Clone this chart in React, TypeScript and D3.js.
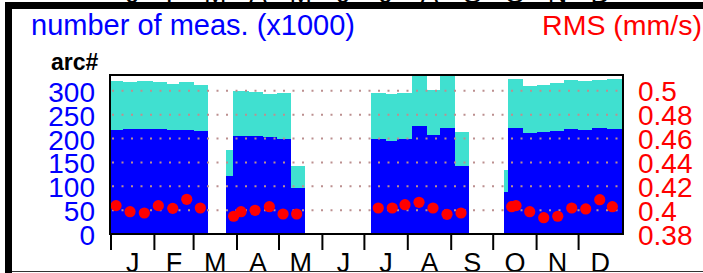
import React from 'react';
import * as d3 from 'd3';

// month labels and the day-of-year each month starts on
const months = ['J', 'F', 'M', 'A', 'M', 'J', 'J', 'A', 'S', 'O', 'N', 'D'];
const monthStart = [0, 31, 59, 90, 120, 151, 181, 212, 243, 273, 304, 334];

// bars: day-of-year start / end, total (x1000) and arc# part (x1000)
const barStart = [0, 8.8, 18.4, 30.2, 39.8, 48.6, 59.5,
  82.1, 87.4, 98.6, 108.4, 118.4, 128.4,
  185.5, 196.4, 204.1, 214.8, 225.5, 235, 245.7,
  280.7, 283.4, 294.5, 304.1, 313.6, 323.6, 333.8, 343.8, 354.1];
const barEnd = [8.8, 18.4, 30.2, 39.8, 48.6, 59.5, 69.1,
  87.4, 98.6, 108.4, 118.4, 128.4, 138.4,
  196.4, 204.1, 214.8, 225.5, 235, 245.7, 255.7,
  283.4, 294.5, 304.1, 313.6, 323.6, 333.8, 343.8, 354.1, 365];
const totalMeas = [320, 319, 320, 318, 315, 318, 313,
  175, 300, 297, 293, 296, 143,
  295, 293, 296, 345, 302, 345, 214,
  134, 324, 311, 312, 316, 323, 321, 323, 325];
const arcMeas = [218, 220, 220, 220, 217, 217, 215,
  122, 206, 205, 203, 200, 96,
  199, 195, 200, 227, 207, 223, 143,
  89, 221, 212, 214, 216, 219, 217, 223, 219];

// RMS points
const rmsDay = [3.6, 13.6, 23.8, 33.8, 44.1, 54.1, 63.8,
  87.6, 92.9, 102.9, 113.1, 122.9, 132.6,
  190.9, 200.9, 210, 220, 230, 240, 250,
  286.2, 289.3, 299.1, 309.1, 319.1, 329.1, 339.1, 349.1, 358.1];
const rmsValue = [0.4038, 0.3987, 0.3976, 0.4038, 0.4015, 0.4091, 0.4018,
  0.3949, 0.3987, 0.3999, 0.4029, 0.3968, 0.3968,
  0.4018, 0.4018, 0.4046, 0.4066, 0.4018, 0.3965, 0.3976,
  0.4029, 0.4038, 0.3987, 0.3937, 0.3949, 0.4018, 0.4010, 0.4088, 0.4029];

const leftTicks = [0, 50, 100, 150, 200, 250, 300];
const rightTicks = [0.38, 0.4, 0.42, 0.44, 0.46, 0.48, 0.5];

export default function App() {
  const W = 703, H = 273;
  const left = 111, right = 622, top = 75, bottom = 234;

  const x = d3.scaleLinear().domain([0, 365]).range([left, right]);
  const yL = d3.scaleLinear().domain([0, 333]).range([bottom, top]);
  const yR = d3.scaleLinear().domain([0.38, 0.5134]).range([bottom, top]);

  const font = 'Liberation Sans, Arial, sans-serif';
  const labelX = (i: number) =>
    (x(monthStart[i]) + x(i < 11 ? monthStart[i + 1] : 365)) / 2;

  return (
    <svg width={W} height={H} style={{ position: 'absolute', left: 0, top: 0, background: '#fff' }}
      fontFamily={font}>
      <defs>
        <clipPath id="plot">
          <rect x={left} y={top} width={right - left} height={bottom - top} />
        </clipPath>
      </defs>

      {/* bottom of the panel above */}
      {months.map((m, i) => (
        <text key={'top' + i} x={labelX(i)} y={3} fontSize={27} textAnchor="middle">{m}</text>
      ))}
      <rect x={5} y={2} width={W - 5} height={7} fill="#000" />
      <rect x={5} y={2} width={7} height={H} fill="#000" />

      <text x={31} y={35} fontSize={29} fill="#0000ff">number of meas. (x1000)</text>
      <text x={702} y={35} fontSize={28.5} fill="#ff0000" textAnchor="end">RMS (mm/s)</text>
      <text x={51} y={70} fontSize={23} fontWeight="bold" fill="#000">arc#</text>

      <g clipPath="url(#plot)" shapeRendering="crispEdges">
        {barStart.map((s, i) => (
          <rect key={'t' + i} x={x(s)} width={x(barEnd[i]) - x(s)}
            y={yL(totalMeas[i])} height={bottom - yL(totalMeas[i])} fill="#40e0d0" />
        ))}
        {barStart.map((s, i) => (
          <rect key={'a' + i} x={x(s)} width={x(barEnd[i]) - x(s)}
            y={yL(arcMeas[i])} height={bottom - yL(arcMeas[i])} fill="#0000ff" />
        ))}
      </g>

      {leftTicks.map(t => (
        <line key={'g' + t} x1={left + 1} x2={right} y1={yL(t)} y2={yL(t)}
          stroke="#bc8f8f" strokeWidth={2} strokeDasharray="2 7.5" />
      ))}

      {rmsDay.map((d, i) => (
        <circle key={'r' + i} cx={x(d)} cy={yR(rmsValue[i])} r={5.6} fill="#ff0000" />
      ))}

      <rect x={110} y={75} width={513} height={159} fill="none" stroke="#000" strokeWidth={2} />

      {leftTicks.map(t => (
        <text key={'l' + t} x={95} y={yL(t) + 11} fontSize={28} fill="#0000ff" textAnchor="end">{t}</text>
      ))}
      {rightTicks.map(t => (
        <text key={'rt' + t} x={638} y={yR(t) + 10.5} fontSize={28} fill="#ff0000">{String(+t.toFixed(2))}</text>
      ))}

      {monthStart.map((d, i) => (
        <line key={'tk' + i} x1={x(d)} x2={x(d)} y1={bottom} y2={250} stroke="#000" strokeWidth={2} />
      ))}
      {months.map((m, i) => (
        <text key={'m' + i} x={labelX(i)} y={272} fontSize={27} textAnchor="middle">{m}</text>
      ))}
      <line x1={12} x2={W} y1={271.5} y2={271.5} stroke="#333" strokeWidth={1} />
    </svg>
  );
}
